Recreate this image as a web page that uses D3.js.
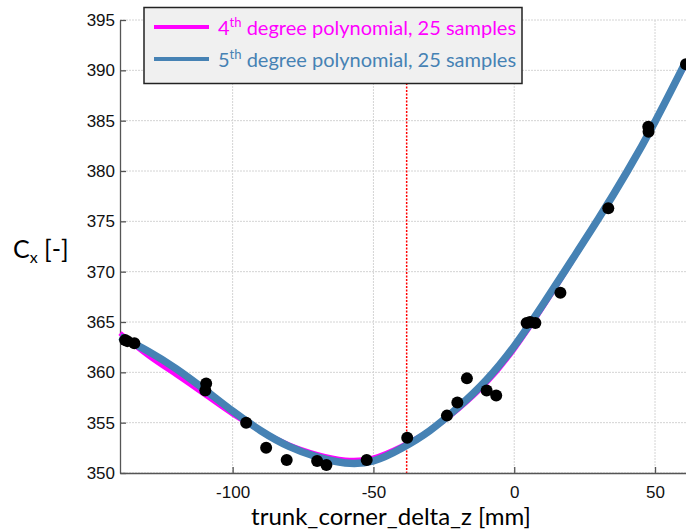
<!DOCTYPE html>
<html><head><meta charset="utf-8">
<script src="https://cdn.jsdelivr.net/npm/d3@7"></script>
<style>html,body{margin:0;padding:0;background:#fff;}svg{display:block;}</style>
</head><body>
<svg id="chart" width="686" height="529"></svg>
<script>
// Sample points (trunk_corner_delta_z [mm], Cx)
const sampleX = [-138.2,-137.4,-134.9,-109.4,-109.7,-95.2,-88.1,-80.8,-70.0,-66.7,-52.4,-38.0,-23.9,-20.2,-16.8,-9.8,-6.4,4.4,5.6,7.5,16.4,33.4,47.6,47.7,61.0];
const sampleY = [363.2,363.1,362.9,358.9,358.2,355.0,352.5,351.3,351.2,350.8,351.3,353.5,355.7,357.0,359.4,358.2,357.7,364.9,365.0,364.9,367.9,376.3,384.4,383.9,390.6];
// Fitted curves
const curveX = [-140,-130,-120,-110,-100,-90,-80,-70,-60,-50,-40,-30,-20,-10,0,10,20,30,40,50,61];
const poly4Y = [363.9,361.65,359.75,357.8,355.85,354.2,352.8,351.85,351.3,351.5,352.65,354.2,356.3,358.9,362.3,366.4,370.8,375.3,380.0,384.95,390.65];
const poly5Y = [363.55,362.1,360.35,358.3,356.15,354.2,352.65,351.6,351.0,351.2,352.45,354.2,356.5,359.2,362.6,366.65,370.95,375.3,379.9,384.9,390.9];
const xTicks = [-100,-50,0,50];
const yTicks = [350,355,360,365,370,375,380,385,390,395];
const markerX = -38.2;
const legendItems = [
  {deg:"4", sup:"th", text:" degree polynomial, 25 samples", color:"#ff00ff"},
  {deg:"5", sup:"th", text:" degree polynomial, 25 samples", color:"#4682b4"}
];

const svg = d3.select("#chart");
const L = 120, R = 686, T = 20, B = 473;
const x = d3.scaleLinear().domain([-140, 61]).range([L, R]);
const y = d3.scaleLinear().domain([350, 395]).range([B, T]);

// grid
const grid = svg.append("g");
grid.selectAll("line.h").data(yTicks).join("line")
  .attr("x1", L).attr("x2", R).attr("y1", d=>y(d)).attr("y2", d=>y(d))
  .attr("stroke", "#d4d4d4").attr("stroke-width", 1).attr("stroke-dasharray", "2,1");
grid.selectAll("line.v").data(xTicks).join("line")
  .attr("y1", T).attr("y2", B).attr("x1", d=>x(d)).attr("x2", d=>x(d))
  .attr("stroke", "#d4d4d4").attr("stroke-width", 1).attr("stroke-dasharray", "2,1");

// red marker line
svg.append("line").attr("x1", x(markerX)).attr("x2", x(markerX)).attr("y1", T).attr("y2", B)
  .attr("stroke", "#ff0000").attr("stroke-width", 1.5).attr("stroke-dasharray", "2,1.5");

// axes
const fontTick = "'Liberation Sans', Arial, sans-serif";
const xAxis = d3.axisBottom(x).tickValues(xTicks).tickSizeInner(-6).tickSizeOuter(0).tickPadding(13).tickFormat(d3.format("d"));
const gx = svg.append("g").attr("transform", `translate(0,${B})`).call(xAxis);
const yAxis = d3.axisLeft(y).tickValues(yTicks).tickSizeInner(-6).tickSizeOuter(0).tickPadding(5).tickFormat(d3.format("d"));
const gy = svg.append("g").attr("transform", `translate(${L},0)`).call(yAxis);
[gx, gy].forEach(g => {
  g.select(".domain").attr("stroke", "#555").attr("stroke-width", 1.3);
  g.selectAll(".tick line").attr("stroke", "#555").attr("stroke-width", 1.3);
  g.selectAll(".tick text").attr("fill", "#111").style("font-family", fontTick).style("font-size", "17px");
});
gx.selectAll(".tick text").text(d => d < 0 ? "-" + Math.abs(d) : String(d));

// curves
const line = (ys) => d3.line().x((d,i)=>x(curveX[i])).y((d,i)=>y(ys[i])).curve(d3.curveNatural)(ys);
svg.append("path").attr("d", line(poly4Y)).attr("fill", "none").attr("stroke", "#ff00ff").attr("stroke-width", 5);
svg.append("path").attr("d", line(poly5Y)).attr("fill", "none").attr("stroke", "#4682b4").attr("stroke-width", 7.5);

// samples
svg.append("g").selectAll("circle").data(sampleX).join("circle")
  .attr("cx", (d)=>x(d)).attr("cy", (d,i)=>y(sampleY[i])).attr("r", 6).attr("fill", "#000");

// legend
const lg = svg.append("g");
lg.append("rect").attr("x", 144).attr("y", 7.5).attr("width", 378).attr("height", 76)
  .attr("fill", "#f0f0f0").attr("stroke", "#222").attr("stroke-width", 1.5);
const fontLbl = "Lato, 'Open Sans', sans-serif";
legendItems.forEach((it, i) => {
  const cy = 27 + i*32;
  lg.append("line").attr("x1", 154).attr("x2", 209).attr("y1", cy).attr("y2", cy)
    .attr("stroke", it.color).attr("stroke-width", 4);
  const t = lg.append("text").attr("x", 218).attr("y", cy + 8).attr("fill", it.color)
    .style("font-family", fontLbl).style("font-size", "20px");
  t.append("tspan").text(it.deg);
  t.append("tspan").attr("dy", -8).style("font-size", "13px").text(it.sup);
  t.append("tspan").attr("dy", 8).text(it.text);
});

// axis titles
svg.append("text").attr("x", 391).attr("y", 525).attr("text-anchor", "middle")
  .style("font-family", fontLbl).style("font-size", "24px").attr("fill", "#000")
  .text("trunk_corner_delta_z [mm]");
const yt = svg.append("text").attr("x", 13).attr("y", 258)
  .style("font-family", fontLbl).style("font-size", "25px").attr("fill", "#000");
yt.append("tspan").text("C");
yt.append("tspan").attr("dy", 5).style("font-size", "16px").text("x");
yt.append("tspan").attr("dy", -5).text(" [-]");
</script>
</body></html>
